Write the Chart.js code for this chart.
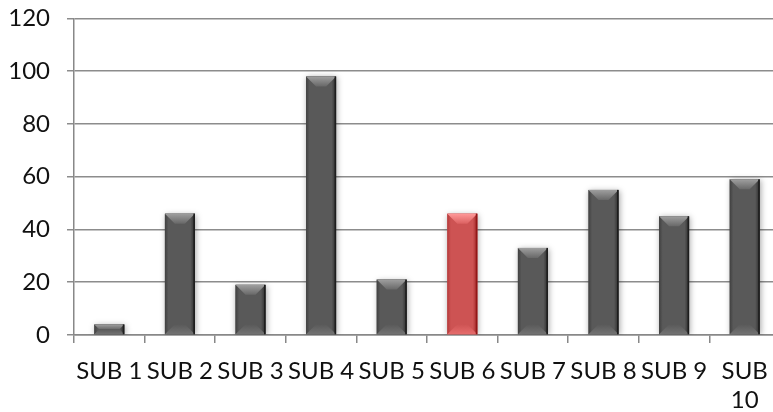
<!DOCTYPE html>
<html>
<head>
<meta charset="utf-8">
<script src="https://cdn.jsdelivr.net/npm/chart.js@4.4.1/dist/chart.umd.min.js"></script>
<style>
  html, body { margin: 0; padding: 0; background: #fff; overflow: hidden; }
  #wrap { position: relative; top: -13px; width: 790px; height: 425px; }
</style>
</head>
<body>
<div id="wrap"><canvas id="chart"></canvas></div>
<script>
const categories = ["SUB 1", "SUB 2", "SUB 3", "SUB 4", "SUB 5", "SUB 6", "SUB 7", "SUB 8", "SUB 9", ["SUB", "10"]];
const values = [4, 46, 19, 98, 21, 46, 33, 55, 45, 59];
const yTicks = [0, 20, 40, 60, 80, 100, 120];
const highlighted = 5;

const GRAY = "#595959";
const RED = "#cd5353";

const shade = (hex, amt) => {
  const n = parseInt(hex.slice(1), 16);
  const f = (c) => Math.max(0, Math.min(255, Math.round(c + amt)));
  return `rgb(${f(n >> 16)},${f((n >> 8) & 255)},${f(n & 255)})`;
};

// soft halo under the bars, then a bevel drawn over each bar element
const bevel = {
  id: "bevel",
  beforeDatasetsDraw(chart) {
    const { ctx } = chart;
    ctx.save();
    ctx.shadowColor = "rgba(0,0,0,0.35)";
    ctx.shadowBlur = 6;
    ctx.shadowOffsetX = 1;
    ctx.shadowOffsetY = 1;
  },
  afterDatasetsDraw(chart) {
    const { ctx } = chart;
    ctx.restore();
    const meta = chart.getDatasetMeta(0);
    meta.data.forEach((bar, i) => {
      const base = i === highlighted ? RED : GRAY;
      const l = bar.x - bar.width / 2;
      const r = bar.x + bar.width / 2;
      const t = bar.y;
      const b = bar.base;
      const h = b - t;
      const d = Math.min(10, bar.width / 2, h / 2);

      ctx.save();
      // side shading
      const g = ctx.createLinearGradient(l, 0, r, 0);
      g.addColorStop(0, shade(base, -25));
      g.addColorStop(0.12, shade(base, 0));
      g.addColorStop(0.85, shade(base, 0));
      g.addColorStop(1, shade(base, -45));
      ctx.fillStyle = g;
      ctx.fillRect(l, t, r - l, h);

      // top bevel
      const gt = ctx.createLinearGradient(0, t, 0, t + d);
      gt.addColorStop(0, shade(base, 70));
      gt.addColorStop(1, shade(base, 15));
      ctx.fillStyle = gt;
      ctx.beginPath();
      ctx.moveTo(l, t);
      ctx.lineTo(r, t);
      ctx.lineTo(r - d, t + d);
      ctx.lineTo(l + d, t + d);
      ctx.closePath();
      ctx.fill();

      // bottom bevel
      const gb = ctx.createLinearGradient(0, b - d, 0, b);
      gb.addColorStop(0, shade(base, 0));
      gb.addColorStop(1, shade(base, 25));
      ctx.fillStyle = gb;
      ctx.beginPath();
      ctx.moveTo(l, b);
      ctx.lineTo(r, b);
      ctx.lineTo(r - d, b - d);
      ctx.lineTo(l + d, b - d);
      ctx.closePath();
      ctx.fill();

      // dark right edge
      ctx.fillStyle = shade(base, -60);
      ctx.fillRect(r - 1.5, t, 1.5, h);
      ctx.restore();
    });
  },
};

new Chart(document.getElementById("chart"), {
  type: "bar",
  data: {
    labels: categories,
    datasets: [
      {
        data: values,
        backgroundColor: values.map((_, i) => (i === highlighted ? RED : GRAY)),
        borderWidth: 0,
        categoryPercentage: 1,
        barPercentage: 0.425,
      },
    ],
  },
  options: {
    responsive: true,
    maintainAspectRatio: false,
    animation: false,
    layout: { padding: { top: 0, right: 10, left: 0, bottom: 0 } },
    plugins: {
      legend: { display: false },
      tooltip: { enabled: false },
    },
    scales: {
      x: {
        offset: true,
        border: { display: true, color: "#888", width: 1.5 },
        grid: {
          offset: true,
          drawOnChartArea: false,
          drawTicks: true,
          tickLength: 8,
          color: "#888",
          lineWidth: 1.5,
        },
        ticks: {
          color: "#111",
          padding: 14,
          maxRotation: 0,
          autoSkip: false,
          font: { family: "Lato", size: 24, lineHeight: 1.2 },
        },
        afterFit(scale) {
          scale.height = 77;
        },
      },
      y: {
        min: 0,
        max: 120,
        afterBuildTicks(scale) {
          scale.ticks = yTicks.map((v) => ({ value: v }));
        },
        border: { display: true, color: "#888", width: 1.5 },
        grid: {
          color: "#8c8c8c",
          lineWidth: 1.5,
          tickLength: 7,
        },
        ticks: {
          color: "#111",
          padding: 17,
          font: { family: "Lato", size: 24 },
        },
        afterFit(scale) {
          scale.width = 74;
        },
      },
    },
  },
  plugins: [bevel],
});
</script>
</body>
</html>
